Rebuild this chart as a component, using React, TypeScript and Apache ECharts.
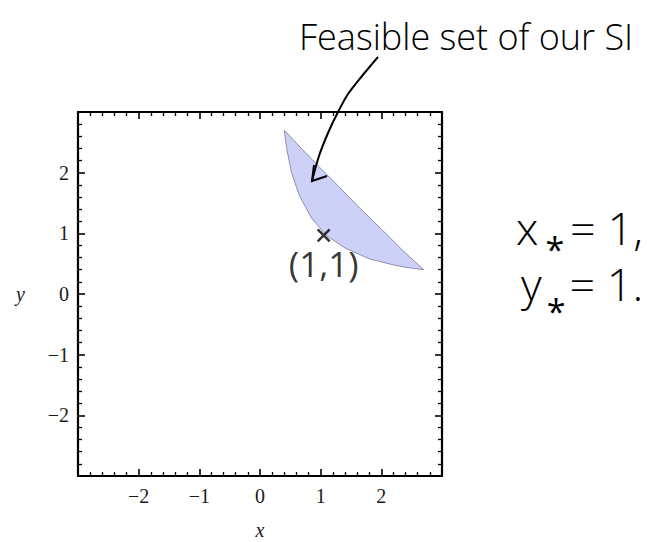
import React, { useEffect, useRef } from "react";
import * as echarts from "echarts";

// Axis ranges and tick labels
const axisMin = -3;
const axisMax = 3;
const tickValues = [-2, -1, 0, 1, 2];
const tickLabels = ["−2", "−1", "0", "1", "2"];

// Feasible region boundary, traced clockwise
const regionX = [0.4, 0.7, 1.0, 1.3, 1.6, 2.0, 2.35, 2.7, 2.4, 2.2, 1.8, 1.4, 1.1, 0.85, 0.65, 0.52, 0.44];
const regionY = [2.7, 2.38, 2.07, 1.77, 1.46, 1.07, 0.72, 0.4, 0.44, 0.48, 0.58, 0.76, 0.96, 1.25, 1.62, 2.0, 2.4];

// Marked optimum
const optimum: [number, number] = [1, 1];
const optimumLabel = "(1,1)";

const hand = "'Open Sans', 'Noto Sans', sans-serif";
const serif = "'Liberation Serif', 'DejaVu Serif', serif";

function labelFor(v: number): string {
  const i = tickValues.indexOf(v);
  return i >= 0 ? tickLabels[i] : "";
}

export default function App() {
  const ref = useRef<HTMLDivElement>(null);

  useEffect(() => {
    if (!ref.current) return;
    const chart = echarts.init(ref.current, undefined, { renderer: "svg" });

    const frameAxis = (position: string, showLabel: boolean, margin: number) => ({
      type: "value",
      min: axisMin,
      max: axisMax,
      interval: 1,
      position,
      axisLine: { show: true, onZero: false, lineStyle: { color: "#000", width: 2.2 } },
      axisTick: { show: true, inside: true, length: 7, lineStyle: { color: "#000", width: 1.6 } },
      minorTick: { show: true, splitNumber: 5, length: 4, lineStyle: { color: "#000", width: 1.3 } },
      splitLine: { show: false },
      minorSplitLine: { show: false },
      axisLabel: {
        show: showLabel,
        formatter: (v: number) => labelFor(v),
        fontFamily: serif,
        fontSize: 20,
        color: "#1a1a1a",
        margin,
      },
    });

    const nameStyle = { fontFamily: serif, fontStyle: "italic", fontSize: 20, lineHeight: 16, color: "#1a1a1a" };
    const handText = (text: string, left: number, top: number, size: number, weight: any = 300) => ({
      type: "text",
      left,
      top,
      style: { text, fontFamily: hand, fontWeight: weight, fontSize: size, lineHeight: size * 0.8, fill: "#000" },
    });

    const big = { fontFamily: hand, fontWeight: 300, fontSize: 45, lineHeight: 56, fill: "#000" };
    const star = { fontFamily: hand, fontWeight: 400, fontSize: 34, fill: "#000" };

    chart.setOption({
      animation: false,
      backgroundColor: "#fff",
      grid: { left: 78, top: 112, width: 364, height: 364, outerBoundsMode: "none", containLabel: false },
      xAxis: [
        {
          ...frameAxis("bottom", true, 10),
          name: "x",
          nameLocation: "middle",
          nameGap: 46,
          nameTextStyle: nameStyle,
        },
        { ...frameAxis("top", false, 8) },
      ],
      yAxis: [
        {
          ...frameAxis("left", true, 9),
          name: "y",
          nameLocation: "middle",
          nameRotate: 0,
          nameGap: 53,
          nameTextStyle: nameStyle,
        },
        { ...frameAxis("right", false, 8) },
      ],
      series: [
        {
          type: "custom",
          xAxisIndex: 0,
          yAxisIndex: 0,
          data: [[regionX[0], regionY[0]]],
          renderItem: (_params: any, api: any) => {
            const pts = regionX.map((x, i) => api.coord([x, regionY[i]]));
            return {
              type: "polygon",
              shape: { points: pts },
              style: { fill: "#cdd0f7", stroke: "#8e90a8", lineWidth: 1 },
            };
          },
          silent: true,
          z: 1,
        },
        {
          type: "scatter",
          xAxisIndex: 0,
          yAxisIndex: 0,
          data: [optimum],
          symbol: "path://M0,0L10,10M10,0L0,10",
          symbolSize: 12,
          symbolOffset: [3, 2],
          itemStyle: { color: "none", borderColor: "#000", borderWidth: 2.5 },
          label: {
            show: true,
            formatter: optimumLabel,
            position: "bottom",
            distance: 2,
            fontFamily: hand,
            fontWeight: 400,
            fontSize: 35,
            color: "#000",
          },
          z: 3,
        },
      ],
      graphic: [
        handText("Feasible set of our SI", 299, 18, 36),
        {
          type: "polyline",
          shape: {
            points: [[378, 57], [362, 76], [348, 94], [338, 112], [328, 133], [319, 156], [312, 181]],
            smooth: 0.3,
          },
          style: { stroke: "#000", lineWidth: 2, fill: "none" },
          z: 10,
        },
        {
          type: "polyline",
          shape: { points: [[314, 165], [312, 181], [327, 176]] },
          style: { stroke: "#000", lineWidth: 2, fill: "none" },
          z: 10,
        },
        {
          type: "text",
          left: 516,
          top: 189,
          style: {
            text: "{v|x}{s1|*}{v|= 1,}\n{w|y}{s2|*}{v|= 1.}",
            rich: {
              v: big,
              w: { ...big, padding: [0, 0, 0, 5] },
              s1: { ...star, lineHeight: 13, padding: [43, 6, 0, 7] },
              s2: { ...star, lineHeight: 1, padding: [55, 4, 0, 5] },
            },
          },
        },
      ],
    });

    return () => chart.dispose();
  }, []);

  return (
    <div
      ref={ref}
      style={{ position: "fixed", left: 0, top: 0, width: 647, height: 542, background: "#fff" }}
    />
  );
}
